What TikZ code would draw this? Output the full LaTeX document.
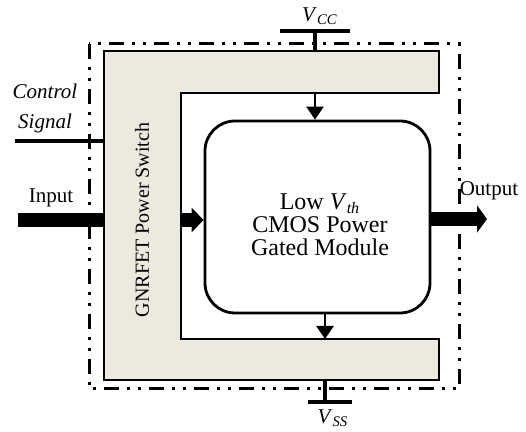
\documentclass[tikz,border=0pt]{standalone}
\usepackage{fontspec}
\setmainfont{Liberation Serif}
\usetikzlibrary{arrows.meta}
\definecolor{swbeige}{RGB}{236,233,223}
\begin{document}
\begin{tikzpicture}[x=0.5pt,y=-0.5pt,
  switchshape/.style={fill=swbeige,draw=black,line width=1.4pt},
  modbox/.style={draw=black,line width=1.4pt,rounded corners=15pt,minimum width=112.5pt,minimum height=96pt,inner sep=0pt},
  modtext/.style={align=center,font=\fontsize{12}{11.5}\selectfont,inner sep=0pt},
  frame/.style={line width=1.5pt,dash pattern=on 7.5pt off 4pt on 1.5pt off 4pt on 1.5pt off 4pt},
  bigarrow/.style={line width=7pt},
  smallarrow/.style={line width=1.4pt,-{Triangle[length=6.5pt,width=8.5pt]}},
  rail/.style={line width=2pt},
  lbl/.style={font=\fontsize{10.5}{12}\selectfont,inner sep=0pt},
]
\useasboundingbox (0,0) rectangle (526,432);
% coordinates
\coordinate (inStart) at (18,220);
\coordinate (outEnd) at (487,219);
\coordinate (swTopPin) at (315,51);
\coordinate (swTopIn) at (315,93);
\coordinate (swBotIn) at (325,339);
\coordinate (swBotPin) at (325,380);
\coordinate (vccBar) at (315,31);
\coordinate (vssBar) at (325,402);
\coordinate (ctrlStart) at (15,141);
\coordinate (ctrlEnd) at (104,141);
% module
\node[modbox] (module) at (317.5,217) {};
% input arrow (behind switch)
\draw[bigarrow,-{Triangle[length=6pt,width=12pt]}] (inStart) -- (inStart -| module.west);
% switch C-shape
\path[switchshape] (104,51) -- (439,51) -- (439,93) -- (181,93) -- (181,339) -- (439,339) -- (439,380) -- (104,380) -- cycle;
\node[rotate=90,font=\fontsize{10}{12}\selectfont,inner sep=0pt] (swlabel) at (142,220) {GNRFET Power Switch};
% frame
\draw[frame] (89,44) rectangle (459,389);
% module text
\node[modtext] (modlabel) at (320,225) {Low \textit{V}\textsubscript{\textit{th}}\\CMOS Power\\Gated Module};
% internal arrows
\draw[smallarrow] (swTopIn) -- (swTopIn |- module.north);
\draw[smallarrow] (swBotIn |- module.south) -- (swBotIn);
% output arrow
\draw[bigarrow,-{Triangle[length=5pt,width=13.5pt]}] (module.east |- outEnd) -- (outEnd);
% supply rails
\draw[rail] (vccBar) -- (swTopPin);
\draw[rail] (280,31) -- (350,31);
\draw[rail] (swBotPin) -- (vssBar);
\draw[rail] (308,402) -- (352,402);
% control
\draw[rail] (ctrlStart) -- (ctrlEnd);
% labels
\node[lbl] (vcc) at (320,16) {\textit{V}\textsubscript{\textit{CC}}};
\node[lbl] (vss) at (333,418) {\textit{V}\textsubscript{\textit{SS}}};
\node[lbl] (ctrl1) at (45,91) {\textit{Control}};
\node[lbl] (ctrl2) at (45,123) {\textit{Signal}};
\node[lbl] (inlbl) at (51,198) {Input};
\node[lbl] (outlbl) at (489,191) {Output};
\end{tikzpicture}
\end{document}
